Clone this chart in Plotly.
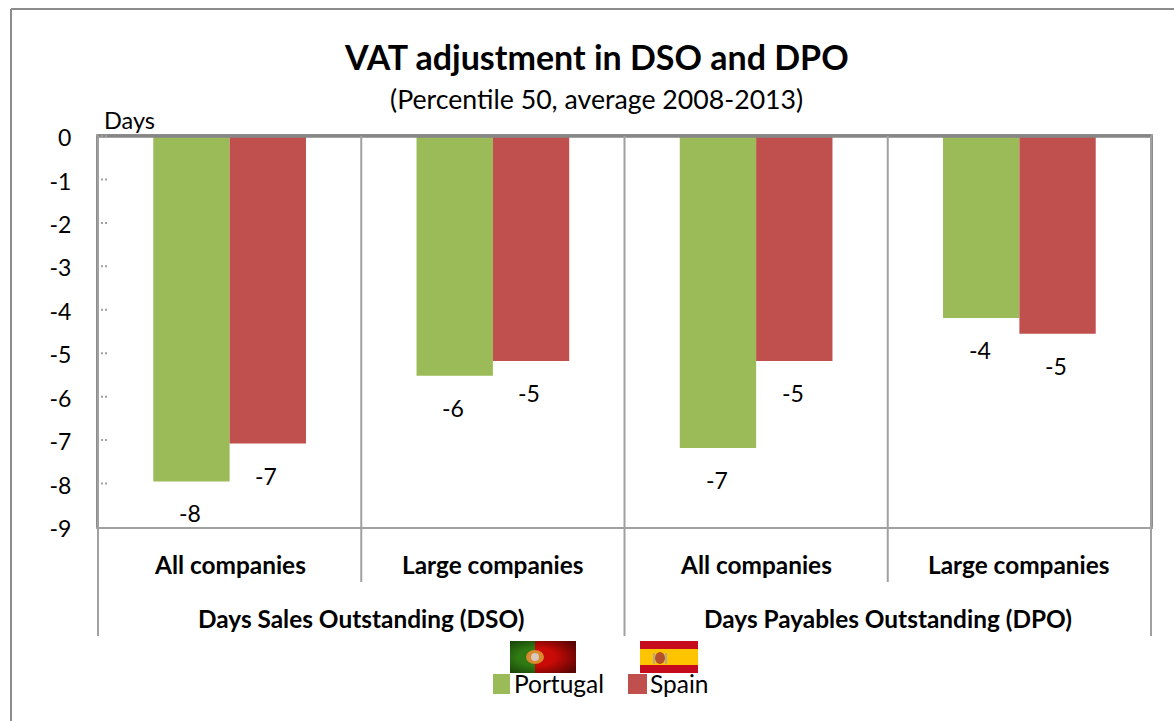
import base64
import plotly.graph_objects as go

# ---- data ----
groups = ["Days Sales Outstanding (DSO)", "Days Payables Outstanding (DPO)"]
segments = ["All companies", "Large companies", "All companies", "Large companies"]
category_keys = ["DSO all", "DSO large", "DPO all", "DPO large"]
portugal = [-7.95, -5.52, -7.18, -4.19]
spain = [-7.08, -5.18, -5.18, -4.55]
y_ticks = [0, -1, -2, -3, -4, -5, -6, -7, -8, -9]

# ---- layout geometry (pixels of the 1174x721 page) ----
W, H = 1174, 721
L, R, T, B = 98, 1151, 136, 527
FONT = "Lato, Carlito, Calibri, sans-serif"
GREY = "#8c8c8c"
GREEN, RED = "#9BBB59", "#C0504D"


def px(x):
    return (x - L) / (R - L)


def py(y):
    return (B - y) / (B - T)


def svg_uri(svg):
    return "data:image/svg+xml;base64," + base64.b64encode(svg.encode()).decode()


flag_pt = svg_uri(
    '<svg xmlns="http://www.w3.org/2000/svg" width="66" height="32" viewBox="0 0 66 32">'
    '<defs><radialGradient id="v" cx="40%" cy="50%" r="70%">'
    '<stop offset="0.4" stop-color="#000" stop-opacity="0"/>'
    '<stop offset="1" stop-color="#000" stop-opacity="0.55"/></radialGradient></defs>'
    '<rect width="25" height="32" fill="#2f7a12"/>'
    '<rect x="25" width="41" height="32" fill="#c90a06"/>'
    '<rect width="66" height="32" fill="url(#v)"/>'
    '<ellipse cx="25" cy="16" rx="9" ry="7" fill="#d98a2e"/>'
    '<ellipse cx="25" cy="16" rx="4" ry="4" fill="#d9c8bc"/></svg>'
)
flag_es = svg_uri(
    '<svg xmlns="http://www.w3.org/2000/svg" width="58" height="32" viewBox="0 0 58 32">'
    '<rect width="58" height="32" fill="#c60b1e"/>'
    '<rect y="8" width="58" height="16" fill="#ffc400"/>'
    '<ellipse cx="20" cy="17" rx="5" ry="6" fill="#b5502a"/>'
    '<rect x="13" y="12" width="2" height="11" fill="#b9a98a"/>'
    '<rect x="25" y="12" width="2" height="11" fill="#b9a98a"/></svg>'
)

fig = go.Figure()
fig.add_bar(name="Portugal", x=category_keys, y=portugal, marker_color=GREEN, marker_line_width=0,
            showlegend=False)
fig.add_bar(name="Spain", x=category_keys, y=spain, marker_color=RED, marker_line_width=0,
            showlegend=False)

shapes = []


def line(x0, y0, x1, y1, width=2, color=GREY, dash=None):
    shapes.append(dict(type="line", xref="paper", yref="paper", x0=px(x0), x1=px(x1),
                       y0=py(y0), y1=py(y1), line=dict(color=color, width=width, dash=dash)))


def swatch(x0, x1, color):
    shapes.append(dict(type="rect", xref="paper", yref="paper", x0=px(x0), x1=px(x1),
                       y0=py(694), y1=py(674), fillcolor=color, line_width=0))


# outer frame
line(11, 9, W + 5, 9)
line(11, 9, 11, H + 5)
# thick zero line
line(L, T, R, T, width=3.5, color="#868686")
# category dividers
for i in range(5):
    xp = L + (R - L) * i / 4
    line(xp, T, xp, 636 if i % 2 == 0 else 582, width=2, color="#a0a0a0")
# dotted tick marks inside the axis
for v in y_ticks[:-1]:
    ypix = T + (B - T) * (-v) / 9
    line(L + 3, ypix, L + 10, ypix, width=2, color="#a0a0a0", dash="2px,2px")
# legend swatches
swatch(493, 510, GREEN)
swatch(628, 647, RED)
fig.update_layout(shapes=shapes)


def note(text, x, y, size, xref="paper", yref="paper", xanchor="center", **kw):
    return dict(x=x, y=y, xref=xref, yref=yref, text=text, showarrow=False, xanchor=xanchor,
                yanchor="middle", font=dict(size=size, color="#000"), **kw)


ann = []
for i, key in enumerate(category_keys):
    for vals, shift in ((portugal, -39.5), (spain, 36.5)):
        ann.append(note(f"{vals[i]:.0f}", key, vals[i], 23, xref="x", yref="y", xshift=shift, yshift=-32))
    ann.append(note(f"<b>{segments[i]}</b>", key, py(564.5), 24.4, xref="x"))
for i, g in enumerate(groups):
    ann.append(note(f"<b>{g}</b>", 2 * i + 0.5, py(618.5), 24.4, xref="x"))
ann.append(note("<b>VAT adjustment in DSO and DPO</b>", px(596), py(56), 34))
ann.append(note("(Percentile 50, average 2008-2013)", px(596), py(99), 26.7))
ann.append(note("Days", px(129), py(120), 23.5))
ann.append(note("Portugal", px(512), py(683), 24.5, xanchor="left"))
ann.append(note("Spain", px(648), py(683), 24.5, xanchor="left"))
fig.update_layout(annotations=ann)

fig.update_layout(images=[
    dict(source=flag_pt, xref="paper", yref="paper", x=px(510), y=py(641), sizex=66 / (R - L),
         sizey=32 / (B - T), xanchor="left", yanchor="top", sizing="stretch", layer="above"),
    dict(source=flag_es, xref="paper", yref="paper", x=px(640), y=py(641), sizex=58 / (R - L),
         sizey=32 / (B - T), xanchor="left", yanchor="top", sizing="stretch", layer="above"),
])

fig.update_layout(
    width=W, height=H, autosize=False,
    margin=dict(l=L, r=W - R, t=T, b=H - B, pad=0),
    paper_bgcolor="white", plot_bgcolor="white",
    font=dict(family=FONT, color="#000"),
    barmode="group", bargap=0.42, bargroupgap=0,
    xaxis=dict(showticklabels=False, ticks="", showline=True, mirror=True, linecolor="#a0a0a0",
               linewidth=2, showgrid=False, zeroline=False, categoryorder="array",
               categoryarray=category_keys, range=[-0.5, 3.5]),
    yaxis=dict(range=[-9, 0], tickvals=y_ticks, ticktext=[str(v) for v in y_ticks], showline=True,
               mirror=True, linecolor="#8c8c8c", linewidth=2, showgrid=False, zeroline=False,
               ticks="outside", ticklen=20, tickcolor="rgba(0,0,0,0)", tickfont=dict(size=23),
               ticklabelshift=2),
)

fig.write_html("out.html", config={"displayModeBar": False},
               post_script="document.body.style.margin='0';document.body.style.overflow='hidden';")
